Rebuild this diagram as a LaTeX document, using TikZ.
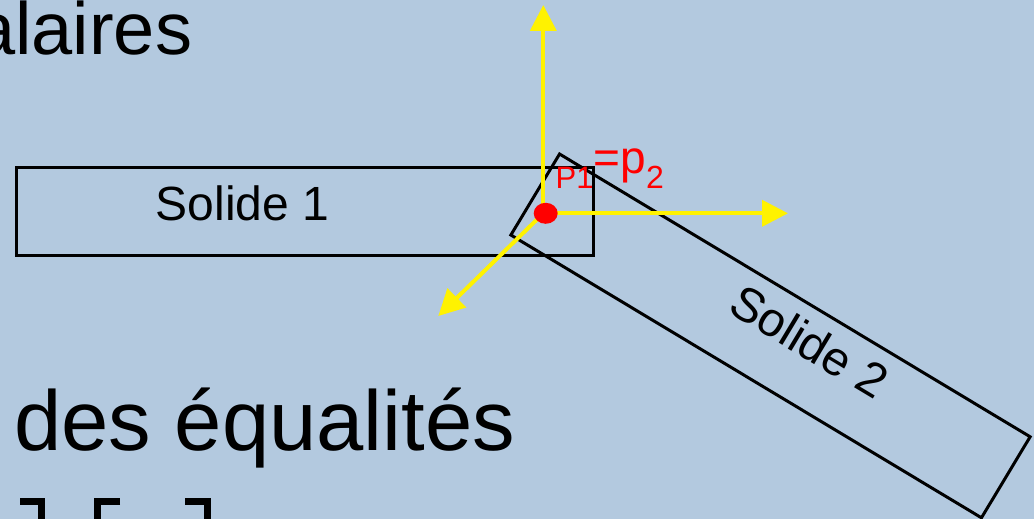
\documentclass[tikz,border=0pt]{standalone}
\usepackage{fontspec}
\setmainfont{Liberation Sans}
\usetikzlibrary{arrows.meta,shapes.geometric}
\definecolor{slidebg}{RGB}{179,201,223}

\begin{document}
\begin{tikzpicture}[
    x=1pt, y=-1pt,
    >={Triangle[length=26pt,width=26pt]},
    part/.style={
        draw=black,
        line width=3pt,
        inner sep=0pt
    },
    lbl/.style={
        font=\fontsize{48}{58}\selectfont,
        inner sep=0pt
    },
    big/.style={
        anchor=base west,
        inner sep=0pt
    },
    axis/.style={->, line width=4pt, draw=yellow},
    brk/.style={line width=7pt, draw=black}
]
    \useasboundingbox (0,0) rectangle (1034,519);
    \fill[slidebg] (0,0) rectangle (1034,519);
    \clip (0,0) rectangle (1034,519);

    \node[big, font=\fontsize{74}{88}\selectfont] (title) at (-26,54.3) {alaires};

    \node[big, font=\fontsize{85}{100}\selectfont] (eq) at (14,450) {des équalités};

    \draw[brk] (20,501.8) -- (41.5,501.8) -- (41.5,530);
    \draw[brk] (120,501.8) -- (97.3,501.8) -- (97.3,530);
    \draw[brk] (185,501.8) -- (207.2,501.8) -- (207.2,530);

    \node[part, minimum width=577pt, minimum height=88pt] (s1) at (305.2,211.5) {};
    \node[lbl, anchor=base] (s1lbl) at (242.6,220.5) {Solide 1};

    \node[part, rotate=-31, minimum width=549pt, minimum height=94.5pt] (s2) at (770.5,335.9) {};
    \node[lbl, rotate=-31] (s2lbl) at (809.5,341.3) {Solide 2};

    \coordinate (o) at (543.3,213.3);
    \coordinate (zend) at (543.3,5);
    \coordinate (xend) at (788,213.3);
    \coordinate (yend) at (438.3,316);

    \draw[axis] (o) -- (zend);
    \draw[axis] (o) -- (xend);
    \draw[axis] (o) -- (yend);

    \node[ellipse, fill=red, minimum width=24pt, minimum height=21pt, inner sep=0pt] (dot) at (545.7,213.3) {};

    \node[anchor=base west, inner sep=0pt, text=red] (plbl) at (555.5,173)
        {\raisebox{-15pt}{\fontsize{31}{31}\selectfont P1}\fontsize{46}{46}\selectfont=p\raisebox{-15pt}{\fontsize{32}{32}\selectfont 2}};
\end{tikzpicture}
\end{document}
